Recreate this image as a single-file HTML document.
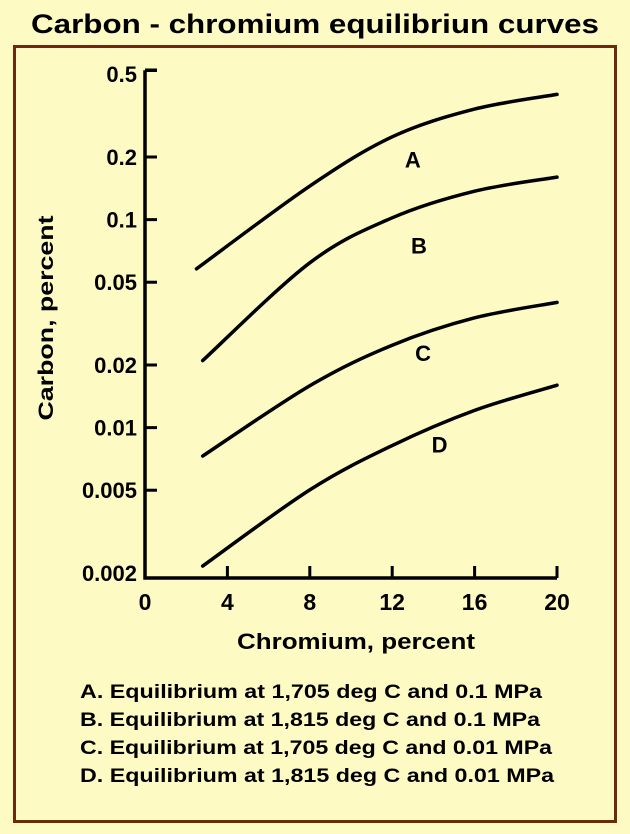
<!DOCTYPE html>
<html><head><meta charset="utf-8"><style>
html,body{margin:0;padding:0;background:#fdfac4;}
svg{display:block;font-family:"Liberation Sans",sans-serif;font-weight:bold;}
</style></head><body>
<svg width="630" height="834" viewBox="0 0 630 834">
<rect x="0" y="0" width="630" height="834" fill="#fdfac4"/>
<text x="315" y="33" text-anchor="middle" font-size="27" textLength="568" lengthAdjust="spacingAndGlyphs" fill="#000">Carbon - chromium equilibriun curves</text>
<rect x="14.5" y="46.5" width="601" height="775" fill="none" stroke="#6b2a0e" stroke-width="3"/>
<g id="axes"></g>
<g id="series"></g>
<text transform="translate(53,318) rotate(-90)" text-anchor="middle" font-size="21" textLength="205" lengthAdjust="spacingAndGlyphs">Carbon, percent</text>
<text x="356" y="649" text-anchor="middle" font-size="22" textLength="238" lengthAdjust="spacingAndGlyphs">Chromium, percent</text>
<g font-size="19">
<text x="80" y="698" textLength="462" lengthAdjust="spacingAndGlyphs">A. Equilibrium at 1,705 deg C and 0.1 MPa</text>
<text x="80" y="726" textLength="460" lengthAdjust="spacingAndGlyphs">B. Equilibrium at 1,815 deg C and 0.1 MPa</text>
<text x="80" y="754" textLength="472" lengthAdjust="spacingAndGlyphs">C. Equilibrium at 1,705 deg C and 0.01 MPa</text>
<text x="80" y="782" textLength="474" lengthAdjust="spacingAndGlyphs">D. Equilibrium at 1,815 deg C and 0.01 MPa</text>
</g>
</svg>
<script>
const xTicks=[0,4,8,12,16,20];
const yTicks=[0.5,0.2,0.1,0.05,0.02,0.01,0.005,0.002];
const yTickLabels=["0.5","0.2","0.1","0.05","0.02","0.01","0.005","0.002"];
const seriesNames=["A","B","C","D"];
const xA=[2.5,8,12,16,20];
const vA=[0.058,0.145,0.25,0.34,0.40];
const xB=[2.8,8,12,16,20];
const vB=[0.021,0.062,0.102,0.137,0.16];
const xC=[2.8,8,12,16,20];
const vC=[0.0073,0.0159,0.0249,0.0337,0.040];
const xD=[2.8,8,12,16,20];
const vD=[0.00216,0.00502,0.0082,0.0121,0.016];
const labelX=[13,13.3,13.5,14.3];
const labelV=[0.195,0.075,0.0228,0.0083];

const NS="http://www.w3.org/2000/svg";
function X(v){return 145+(v/20)*412;}
function Y(v){return 573-208*Math.log10(v/0.002);}
function mk(tag,attrs,parent){const e=document.createElementNS(NS,tag);for(const k in attrs)e.setAttribute(k,attrs[k]);parent.appendChild(e);return e;}
const axes=document.getElementById('axes');
let a=mk('path',{d:`M${X(0)},${Y(0.5)-4} H${X(0)+12} M${X(0)},${Y(0.5)-4} V578 H${X(20)}`,fill:'none',stroke:'#000','stroke-width':3.5},axes);


yTicks.forEach((t,i)=>{
  if(i>0&&i<yTicks.length-1){const tk=mk('line',{x1:X(0),x2:X(0)+12,y1:Y(t),y2:Y(t),stroke:'#000','stroke-width':3},axes);
  
  }
  const tx=mk('text',{x:137,y:Y(t)+8,'text-anchor':'end','font-size':22},axes);
  tx.textContent=yTickLabels[i];
  
  
});
xTicks.forEach(t=>{
  if(t>0){const tk=mk('line',{x1:X(t),x2:X(t),y1:578,y2:566,stroke:'#000','stroke-width':3},axes);
  
  }
  const tx=mk('text',{x:X(t),y:610,'text-anchor':'middle','font-size':23},axes);
  tx.textContent=String(t);
  
  
});
function smooth(pts){let d=`M${pts[0][0]},${pts[0][1]}`;
  for(let i=0;i<pts.length-1;i++){const p0=pts[i-1]||pts[i],p1=pts[i],p2=pts[i+1],p3=pts[i+2]||p2;
    d+=` C${p1[0]+(p2[0]-p0[0])/6},${p1[1]+(p2[1]-p0[1])/6} ${p2[0]-(p3[0]-p1[0])/6},${p2[1]-(p3[1]-p1[1])/6} ${p2[0]},${p2[1]}`;}
  return d;}
const ser=document.getElementById('series');
[[xA,vA],[xB,vB],[xC,vC],[xD,vD]].forEach((s,i)=>{
  const pts=s[0].map((x,j)=>[X(x),Y(s[1][j])]);
  const p=mk('path',{d:smooth(pts),fill:'none',stroke:'#000','stroke-width':3.5,'stroke-linecap':'round'},ser);
  
  
  const t=mk('text',{x:X(labelX[i]),y:Y(labelV[i])+8,'text-anchor':'middle','font-size':22},ser);
  t.textContent=seriesNames[i];
  
  
});
</script>
</body></html>
